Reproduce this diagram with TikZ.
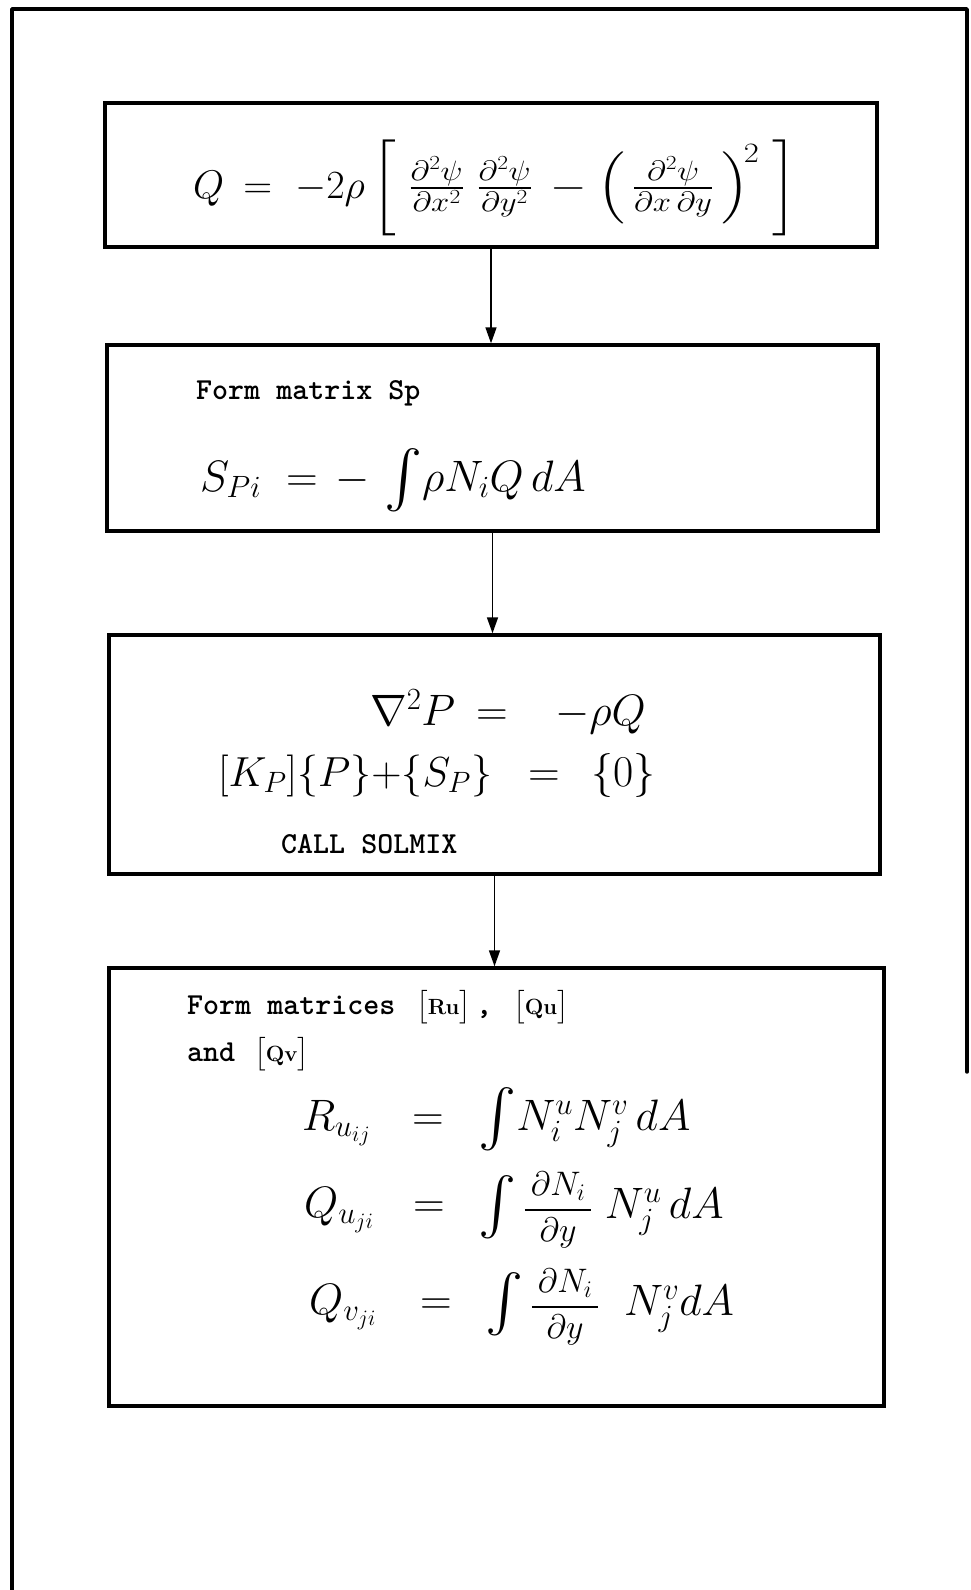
\RequirePackage{fix-cm}
\documentclass[tikz,border=0pt]{standalone}
\usepackage{amsmath}
\usepackage{graphicx}
\usepackage{fontspec}
\DeclareFontShape{OMX}{cmex}{m}{n}{<->cmex10}{}
\usetikzlibrary{arrows.meta}
\newcommand{\hint}{\mathop{\vcenter{\hbox{\scalebox{1.3}{$\int$}}}}\nolimits}
\newcommand{\hfr}[2]{\text{\fontsize{34}{40}\selectfont$\displaystyle\frac{\hspace{6pt}#1\hspace{6pt}}{#2}$}}
\newcommand{\tbr}[1]{{\fontsize{28}{32}\selectfont$\bigl[\hbox{\rmfamily\fontsize{22}{26}\selectfont #1}\bigr]$}}
\tikzset{
  box/.style={draw, line width=3.4pt, inner sep=0pt},
  flow/.style={line width=1.6pt, -{Triangle[length=16pt,width=11pt]}},
  frame/.style={line width=3.4pt, line cap=round, line join=round},
  hand/.style={inner sep=0pt, font=\fontsize{44}{52}\selectfont},
  handA/.style={inner sep=0pt, font=\fontsize{40}{48}\selectfont},
  handB/.style={inner sep=0pt, font=\fontsize{42}{50}\selectfont},
  typed/.style={inner sep=0pt, font=\fontsize{30.5}{36}\selectfont\ttfamily\bfseries}
}
\begin{document}
\begin{tikzpicture}[x=1pt,y=-1pt]
\useasboundingbox (0,0) rectangle (970,1590);
% outer frame
\coordinate (fbl) at (12,1590);
\coordinate (ftl) at (12,9);
\coordinate (ftr) at (967,9);
\coordinate (fbr) at (967,1072);
\draw[frame] (fbl) -- (ftl) -- (ftr) -- (fbr);

% boxes
\node[box, minimum width=772pt, minimum height=144pt] (b1) at (491,175) {};
\node[box, minimum width=771pt, minimum height=186pt] (b2) at (492.5,438) {};
\node[box, minimum width=771pt, minimum height=239pt] (b3) at (494.5,754.5) {};
\node[box, minimum width=775pt, minimum height=438pt] (b4) at (496.5,1187) {};

% arrows
\draw[flow] (b1.south) -- (b1.south |- b2.north);
\draw[flow] (b2.south) -- (b2.south |- b3.north);
\draw[flow] (b3.south) -- (b3.south |- b4.north);

% box 1
\node[handA, anchor=west] (q1) at (193,188)
 {$Q\hspace{8pt}=\hspace{12pt}-2\rho\,\scalebox{1.17}[1]{$\left[\;\frac{\partial^2\psi}{\partial x^2}\;\frac{\partial^2\psi}{\partial y^2}\,-\left(\,\frac{\partial^2\psi}{\partial x\,\partial y}\,\right)^{\!2}\;\right]$}$};

% box 2
\node[typed, anchor=base west] (t2) at (196,399) {Form matrix Sp};
\node[hand, anchor=base west] (s2l) at (200,491) {$S_{Pi}$};
\node[hand, anchor=base] (s2e) at (302,491) {$=$};
\node[hand, anchor=base west] (s2r) at (335,491) {$-\,\hint\!\rho N_i Q\,d A$};

% box 3
\node[hand, anchor=base west] (p1l) at (370,725) {$\nabla^2P$};
\node[hand, anchor=base] (p1e) at (492,725) {$=$};
\node[hand, anchor=base west] (p1r) at (555,725) {$-\rho Q$};
\node[handB, anchor=base west] (p2l) at (218,786) {$[K_P]\{P\}\mathord{+}\{S_P\}$};
\node[hand, anchor=base] (p2e) at (544,786) {$=$};
\node[hand, anchor=base west] (p2r) at (591,786) {$\{0\}$};
\node[typed, anchor=base west] (t3) at (281,853) {CALL SOLMIX};

% box 4
\node[typed, anchor=base west] (t4a) at (187,1014) {Form matrices};
\node[typed, anchor=base west] (t4ru) at (416,1014) {\tbr{Ru}};
\node[typed, anchor=base west] (t4c) at (476,1014) {,};
\node[typed, anchor=base west] (t4qu) at (513,1014) {\tbr{Qu}};
\node[typed, anchor=base west] (t4b) at (187,1061) {and};
\node[typed, anchor=base west] (t4qv) at (254,1061) {\tbr{Qv}};

\node[hand, anchor=base west] (r1l) at (302,1130) {$R_{u_{ij}}$};
\node[hand, anchor=base] (r1e) at (428,1130) {$=$};
\node[hand, anchor=base west] (r1r) at (478,1130) {$\hint\!N_i^u N_j^v\,dA$};

\node[hand, anchor=west] (r2l) at (304,1210) {$Q_{u_{ji}}$};
\node[hand] (r2e) at (429,1210) {$=$};
\node[hand, anchor=west] (r2r) at (478,1210) {$\hint\hfr{\partial N_i}{\partial y}\;N_j^u\,dA$};

\node[hand, anchor=west] (r3l) at (309,1307) {$Q_{v_{ji}}$};
\node[hand] (r3e) at (436,1307) {$=$};
\node[hand, anchor=west] (r3r) at (485,1307) {$\hint\hfr{\partial N_i}{\partial y}\;\;N_j^v dA$};
\end{tikzpicture}
\end{document}
